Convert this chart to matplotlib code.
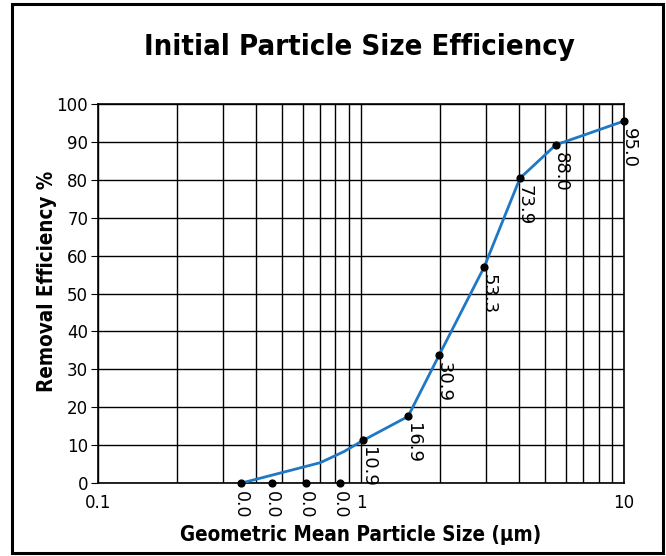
import matplotlib as mpl
import matplotlib.pyplot as plt
from matplotlib.patches import Rectangle
from matplotlib.ticker import LogLocator, NullFormatter, FixedLocator, FixedFormatter

mpl.rcParams['font.family'] = ['DejaVu Sans']

# curve (as drawn)
line_x = [0.35, 0.70, 0.86, 1.02, 1.51, 1.98, 2.94, 4.02, 5.5, 10.0]
line_y = [0.0, 5.4, 8.3, 11.3, 17.6, 33.7, 57.0, 80.4, 89.2, 95.5]

# dots on the axis (zero efficiency)
zero_x = [0.35, 0.46, 0.62, 0.83]
zero_lab = ['0.0', '0.0', '0.0', '0.0']

# dots on the curve with their labels
pt_x = [1.02, 1.51, 1.98, 2.94, 4.02, 5.5, 10.0]
pt_y = [11.3, 17.6, 33.7, 57.0, 80.4, 89.2, 95.5]
pt_lab = ['10.9', '16.9', '30.9', '53.3', '73.9', '88.0', '95.0']

fig = plt.figure(figsize=(6.66, 5.56), dpi=100)
ax = fig.add_axes([0.147, 0.131, 0.79, 0.682])

ax.plot(line_x, line_y, color='#1f78c6', lw=2, zorder=3)
ax.scatter(zero_x, [0] * len(zero_x), s=24, color='black', zorder=4, clip_on=False)
ax.scatter(pt_x, pt_y, s=24, color='black', zorder=4, clip_on=False)

for x, lab in zip(zero_x, zero_lab):
    ax.annotate(lab, (x, 0), xytext=(0, -6), textcoords='offset points',
                rotation=270, ha='center', va='top', fontsize=12.5, annotation_clip=False)
for x, y, lab in zip(pt_x, pt_y, pt_lab):
    ax.annotate(lab, (x, y), xytext=(-3, -5), textcoords='offset points',
                rotation=270, ha='left', va='top', fontsize=13, annotation_clip=False)

ax.set_xscale('log')
ax.set_xlim(0.1, 10)
ax.set_ylim(0, 100)
ax.xaxis.set_major_locator(FixedLocator([0.1, 1, 10]))
ax.xaxis.set_major_formatter(FixedFormatter(['0.1', '1', '10']))
ax.xaxis.set_minor_locator(LogLocator(base=10, subs=range(2, 10)))
ax.xaxis.set_minor_formatter(NullFormatter())
ax.set_yticks(range(0, 101, 10))
ax.grid(True, which='both', axis='x', color='black', lw=1)
ax.grid(True, which='major', axis='y', color='black', lw=1)
ax.tick_params(axis='x', which='both', length=0, labelsize=12, pad=8)
ax.tick_params(axis='y', length=5, labelsize=12, pad=2)
for s in ax.spines.values():
    s.set_color('black')
    s.set_linewidth(1.2)

ax.set_xlabel('Geometric Mean Particle Size (µm)', fontsize=14.8, fontweight='bold',
              fontstretch='condensed', labelpad=9)
ax.set_ylabel('Removal Efficiency %', fontsize=14.8, fontweight='bold',
              fontstretch='condensed')
ax.yaxis.set_label_coords(-0.078, 0.533)
fig.text(0.539, 0.915, 'Initial Particle Size Efficiency', ha='center', va='center',
         fontsize=21, fontweight='bold', fontstretch='condensed')

fig.patches.append(Rectangle((0.018, 0.006), 0.977, 0.987, transform=fig.transFigure,
                             fill=False, edgecolor='black', lw=2.2))

fig.savefig('out.png', dpi=100)
